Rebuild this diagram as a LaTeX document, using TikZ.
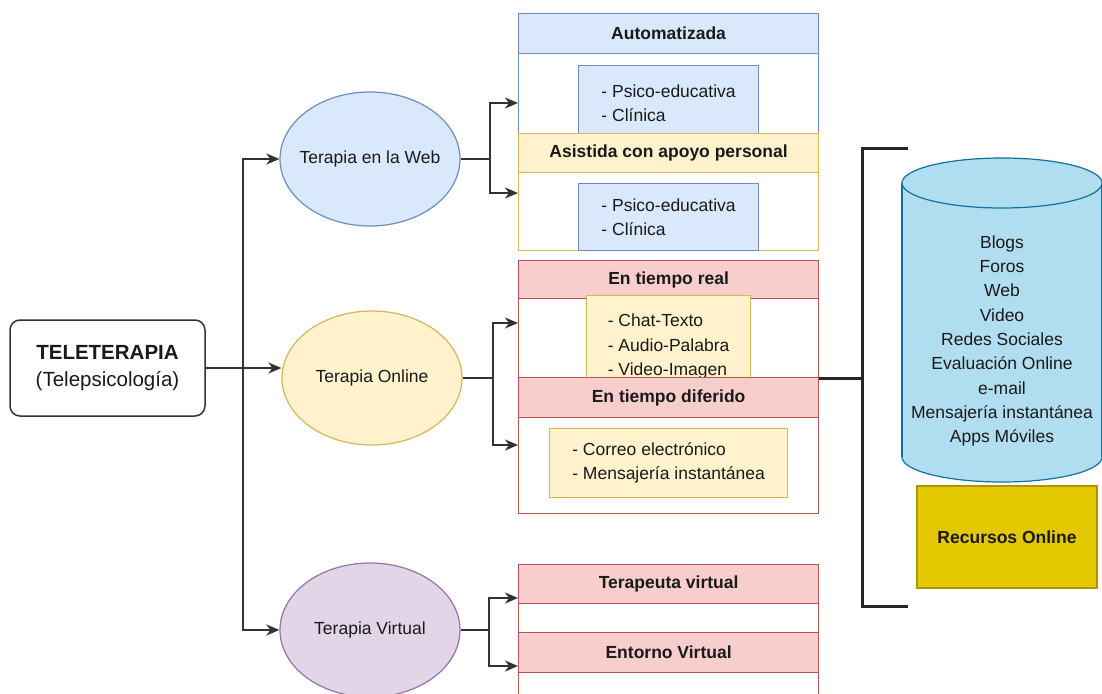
\documentclass[tikz,border=0pt]{standalone}
\usepackage{fontspec}
\setmainfont{Liberation Sans}
\usetikzlibrary{shapes.geometric,arrows.meta}

\definecolor{blueFill}{HTML}{DAE8FC}
\definecolor{blueLine}{HTML}{6C8EBF}
\definecolor{yellowFill}{HTML}{FFF2CC}
\definecolor{yellowLine}{HTML}{D6B656}
\definecolor{redFill}{HTML}{F8CECC}
\definecolor{redLine}{HTML}{B85450}
\definecolor{purpleFill}{HTML}{E1D5E7}
\definecolor{purpleLine}{HTML}{9673A6}
\definecolor{cylFill}{HTML}{B1DDF0}
\definecolor{cylLine}{HTML}{10739E}
\definecolor{goldFill}{HTML}{E3C800}
\definecolor{goldLine}{HTML}{B09500}
\definecolor{txt}{HTML}{1A1A1A}

\begin{document}
\begin{tikzpicture}[>={Stealth[length=13pt,width=11pt,inset=4pt]}, x=1pt, y=-1pt,
    every node/.style={font=\fontsize{17.5}{24.3}\selectfont, text=txt},
    conn/.style={line width=2.2pt, draw=black!80},
    bracket/.style={line width=3pt, draw=black!85},
    oval/.style 2 args={ellipse, draw=#2, fill=#1, line width=1.2pt, inner sep=0pt,
        minimum width=180pt, minimum height=134pt},
    lane/.style={draw=#1, fill=white, line width=1.2pt, anchor=north west,
        minimum width=300pt, inner sep=0pt},
    head/.style 2 args={draw=#2, fill=#1, line width=1.2pt, anchor=north west,
        minimum width=300pt, inner sep=0pt, font=\fontsize{17.5}{24.3}\selectfont\bfseries},
    item/.style 2 args={draw=#2, fill=#1, line width=1.2pt, anchor=north west,
        align=left, inner sep=0pt}]

            % Page frame
            \useasboundingbox (0,0) rectangle (1102,693);
            \clip (0,0) rectangle (1102,693);

            % Root box
            \node[draw=black!80, line width=1.5pt, rounded corners=10pt, fill=white,
                minimum width=195pt, minimum height=96pt, align=center,
                font=\fontsize{20.5}{27}\selectfont] (tele) at (107.5,368)
                {\textbf{TELETERAPIA}\\(Telepsicología)};

            % Therapy types (ellipses)
            \node[oval={blueFill}{blueLine}, label=center:{Terapia en la Web}] (web) at (370,159) {};
            \node[oval={yellowFill}{yellowLine}, label=center:{Terapia Online}] (online) at (372,378) {};
            \node[oval={purpleFill}{purpleLine}, label=center:{Terapia Virtual}] (virtual) at (370,630) {};

            % Terapia en la Web lanes
            \node[lane=blueLine, minimum height=120pt] (autobox) at (518,13) {};
            \node[head={blueFill}{blueLine}, minimum height=40pt] (autohead) at (518,13) {Automatizada};
            \node[item={blueFill}{blueLine}, minimum width=180pt, minimum height=75pt] (autoitem) at (578,65) {- Psico-educativa\\- Clínica};
            \node[lane=yellowLine, minimum height=117pt] (asisbox) at (518,133) {};
            \node[head={yellowFill}{yellowLine}, minimum height=39pt] (asishead) at (518,133) {Asistida con apoyo personal};
            \node[item={blueFill}{blueLine}, minimum width=180pt, minimum height=67pt] (asisitem) at (578,183) {- Psico-educativa\\- Clínica};

            % Terapia Online lanes
            \node[lane=redLine, minimum height=117pt] (realbox) at (518,260) {};
            \node[head={redFill}{redLine}, minimum height=38pt] (realhead) at (518,260) {En tiempo real};
            \node[item={yellowFill}{yellowLine}, minimum width=164pt, minimum height=102pt] (realitem) at (586,295) {- Chat-Texto\\- Audio-Palabra\\- Video-Imagen};
            \node[lane=redLine, minimum height=136pt] (diferbox) at (518,377) {};
            \node[head={redFill}{redLine}, minimum height=40pt] (diferhead) at (518,377) {En tiempo diferido};
            \node[item={yellowFill}{yellowLine}, minimum width=238pt, minimum height=69pt] (diferitem) at (549,428) {- Correo electrónico\\- Mensajería instantánea};

            % Terapia Virtual lanes
            \node[lane=redLine, minimum height=68pt] (terabox) at (518,564) {};
            \node[head={redFill}{redLine}, minimum height=39pt] (terahead) at (518,564) {Terapeuta virtual};
            \node[lane=redLine, minimum height=80pt] (entobox) at (518,632) {};
            \node[head={redFill}{redLine}, minimum height=40pt] (entohead) at (518,632) {Entorno Virtual};

            % Arrow ends on the lanes
            \coordinate (split) at (243,368);
            \coordinate (autoin) at (518,103);
            \coordinate (asisin) at (518,193);
            \coordinate (realin) at (518,323);
            \coordinate (diferin) at (518,445);
            \coordinate (terain) at (518,598);
            \coordinate (entoin) at (518,666);

            % Connectors
            \draw[conn,->] (tele.east) -- (tele.east -| online.west);
            \draw[conn,->] (split) |- (web.west);
            \draw[conn,->] (split) |- (virtual.west);
            \draw[conn,->] (web.east) -- ++(29,0) |- (autoin);
            \draw[conn,->] (web.east) -- ++(29,0) |- (asisin);
            \draw[conn,->] (online.east) -- ++(30,0) |- (realin);
            \draw[conn,->] (online.east) -- ++(30,0) |- (diferin);
            \draw[conn,->] (virtual.east) -- ++(28,0) |- (terain);
            \draw[conn,->] (virtual.east) -- ++(28,0) |- (entoin);

            % Bracket
            \coordinate (brtop) at (908,148);
            \coordinate (brmid) at (862,377);
            \coordinate (brbot) at (908,606);
            \draw[bracket] (realbox.south east) -- (realbox.south east -| brmid);
            \draw[bracket] (brtop) -| (brmid) |- (brbot);

            % Cylinder (drawn directly)
            \filldraw[fill=cylFill, draw=cylLine, line width=1.2pt] (1002,457) ellipse (100 and 25);
            \fill[cylFill] (902,183) rectangle (1102,457);
            \draw[cylLine, line width=1.2pt] (902,183) -- (902,457) (1102,183) -- (1102,457);
            \filldraw[fill=cylFill, draw=cylLine, line width=1.2pt] (1002,183) ellipse (100 and 25);
            \node[align=center] (res) at (1002,341) {Blogs\\Foros\\Web\\Video\\Redes Sociales\\Evaluación Online\\e-mail\\Mensajería instantánea\\Apps Móviles};

            \node[draw=goldLine, fill=goldFill, line width=1.2pt, minimum width=180pt, minimum height=102pt,
                font=\fontsize{17.5}{24.3}\selectfont\bfseries] (recursos) at (1007,537) {Recursos Online};
        \end{tikzpicture}
\end{document}
